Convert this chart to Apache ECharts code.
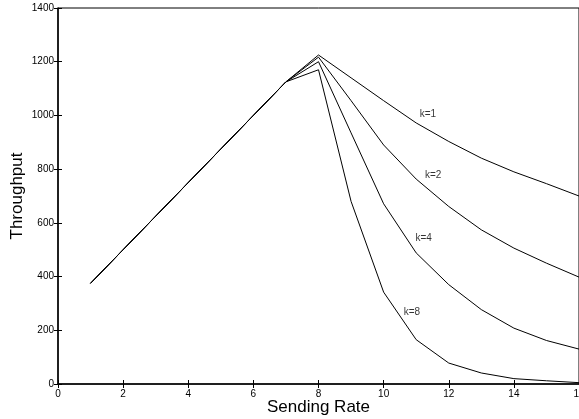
<!DOCTYPE html>
<html>
<head>
<meta charset="utf-8">
<script src="https://cdn.jsdelivr.net/npm/echarts@6/dist/echarts.min.js"></script>
<style>html,body{margin:0;padding:0;background:#fff}#c{width:579px;height:419px}</style>
</head>
<body>
<div id="c"></div>
<script>
var sendingRate = [1,2,3,4,5,6,7,8,9,10,11,12,13,14,15,16];
var k1 = [375,500,625,750,875,1000,1125,1225,1140,1055,972,903,841,790,746,700];
var k2 = [375,500,625,750,875,1000,1125,1217,1055,890,763,661,574,506,450,398];
var k4 = [375,500,625,750,875,1000,1125,1200,935,671,488,370,277,208,162,130];
var k8 = [375,500,625,750,875,1000,1125,1170,680,342,165,78,41,20,12,5];
var seriesNames = ['k=1','k=2','k=4','k=8'];
var labelAt = [[11.36,1006],[11.52,779],[11.23,541],[10.87,269]];

var font = 'Liberation Sans, Arial, Helvetica, sans-serif';
var all = [k1,k2,k4,k8];
var series = all.map(function(vals, i){
  return {
    type:'line', name: seriesNames[i],
    data: sendingRate.map(function(x,j){return [x, vals[j]];}),
    showSymbol:false, symbol:'none', animation:false,
    lineStyle:{color:'#000', width:1}
  };
});
series.push({
  type:'scatter', name:'labels', animation:false,
  symbolSize:1, itemStyle:{color:'rgba(0,0,0,0)'},
  data: labelAt.map(function(p,i){return {value:p, name:seriesNames[i]};}),
  label:{show:true, position:'inside', formatter:function(p){return p.name;},
    color:'#000', fontFamily:font, fontSize:10},
  silent:true
});
var chart = echarts.init(document.getElementById('c'), null, {renderer:'canvas'});
chart.setOption({
  animation:false,
  backgroundColor:'#fff',
  grid:{left:58, right:0, top:8, bottom:35, outerBoundsMode:'none', containLabel:false,
    show:true, borderColor:'#000', borderWidth:1, backgroundColor:'transparent'},
  xAxis:[{
    type:'value', min:0, max:16, interval:2,
    name:'Sending Rate', nameLocation:'middle', nameGap:15, nameMoveOverlap:false,
    nameTextStyle:{fontFamily:font, fontSize:17, color:'#000'},
    axisLine:{show:true, onZero:false, lineStyle:{color:'#000', width:1.5}},
    axisTick:{show:true, inside:true, length:4, lineStyle:{color:'#000'}},
    axisLabel:{fontFamily:font, fontSize:10, color:'#000', margin:5,
      formatter:function(v){return String(v);}},
    splitLine:{show:false}
  },{
    type:'value', min:0, max:16, interval:2, position:'top',
    axisLine:{show:false}, axisLabel:{show:false},
    axisTick:{show:true, inside:true, length:4, lineStyle:{color:'#000'}},
    splitLine:{show:false}
  }],
  yAxis:[{
    type:'value', min:0, max:1400, interval:200,
    name:'Throughput', nameLocation:'middle', nameGap:32, nameRotate:90, nameMoveOverlap:false,
    nameTextStyle:{fontFamily:font, fontSize:17, color:'#000'},
    axisLine:{show:true, onZero:false, lineStyle:{color:'#000', width:1.5}},
    axisTick:{show:true, inside:true, length:4, lineStyle:{color:'#000'}},
    axisLabel:{fontFamily:font, fontSize:10, color:'#000', margin:4,
      formatter:function(v){return String(v);}},
    splitLine:{show:false}
  },{
    type:'value', min:0, max:1400, interval:200, position:'right',
    axisLine:{show:false}, axisLabel:{show:false},
    axisTick:{show:true, inside:true, length:4, lineStyle:{color:'#000'}},
    splitLine:{show:false}
  }],
  series: series
});
</script>
</body>
</html>
